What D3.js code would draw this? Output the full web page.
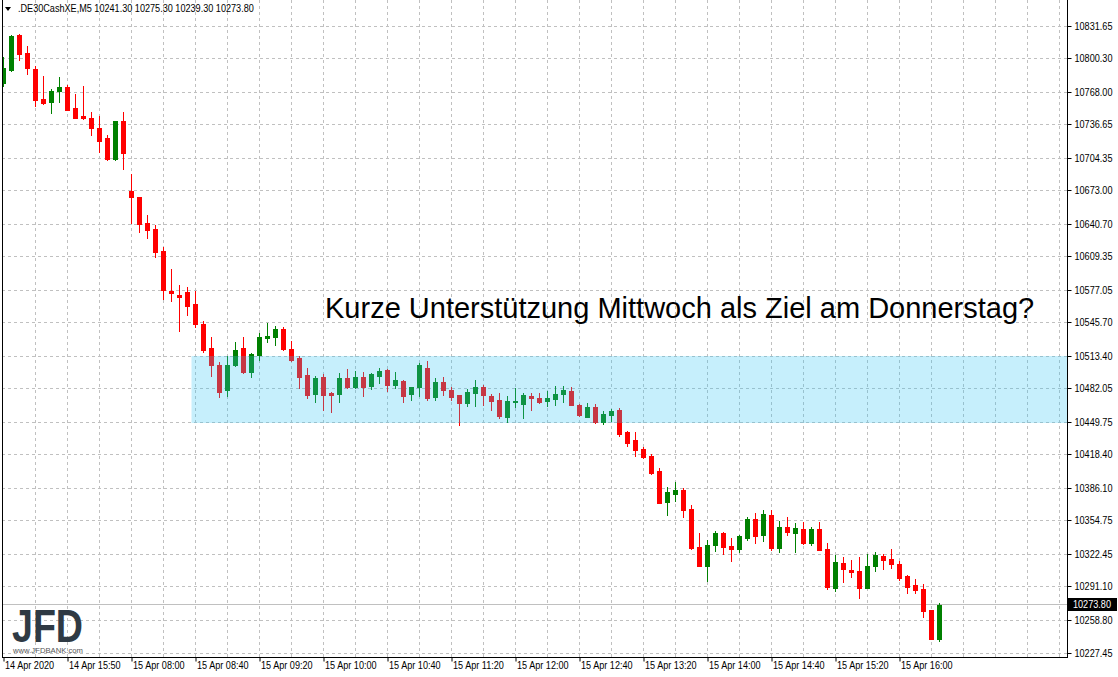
<!DOCTYPE html>
<html>
<head>
<meta charset="utf-8">
<script src="https://cdn.jsdelivr.net/npm/d3@7"></script>
<style>
  html, body { margin: 0; padding: 0; background: #fff; }
  svg { display: block; }
</style>
</head>
<body>
<svg id="chart" width="1118" height="677"></svg>
<script>
// ---------------- data ----------------
const symbolTitle = ".DE30CashXE,M5  10241.30 10275.30 10239.30 10273.80";
const annotation = "Kurze Unterstützung Mittwoch als Ziel am Donnerstag?";

const open = [
10777.3, 10789.5, 10823.3, 10805.9, 10790.5, 10761.6, 10759.0, 10769.6, 10773.1, 10752.9,
10745.2, 10743.2, 10733.9, 10724.3, 10704.0, 10740.4, 10672.9, 10667.1, 10642.0, 10636.2,
10615.0, 10576.5, 10572.6, 10575.5, 10563.9, 10544.9, 10521.5, 10505.1, 10481.0, 10505.4,
10521.5, 10498.4, 10515.0, 10531.4, 10532.4, 10539.8, 10520.5, 10511.9, 10495.5, 10477.4,
10493.5, 10478.4, 10477.4, 10492.6, 10484.2, 10493.5, 10485.1, 10494.8, 10500.3, 10486.1,
10489.7, 10477.4, 10484.2, 10502.2, 10474.5, 10488.7, 10481.0, 10476.5, 10468.8, 10478.4,
10483.9, 10475.5, 10471.4, 10455.3, 10469.7, 10467.8, 10475.5, 10473.3, 10470.7, 10472.6,
10477.4, 10480.0, 10466.8, 10455.3, 10464.9, 10450.4, 10457.2, 10462.0, 10440.5, 10432.8,
10424.1, 10417.7, 10403.2, 10373.3, 10381.0, 10384.9, 10366.6, 10329.9, 10311.6, 10331.9,
10343.4, 10330.9, 10328.0, 10338.6, 10356.9, 10341.5, 10360.8, 10329.0, 10349.2, 10343.4,
10347.3, 10333.8, 10347.3, 10328.0, 10290.4, 10314.2, 10307.5, 10306.5, 10290.4, 10311.6,
10321.0, 10318.1, 10313.2, 10301.7, 10293.0, 10289.1, 10268.9, 10241.3
];
const high = [
10802.3, 10823.6, 10824.2, 10813.0, 10793.4, 10783.7, 10771.2, 10782.8, 10775.1, 10766.7,
10774.4, 10749.0, 10745.2, 10726.9, 10740.4, 10749.0, 10689.3, 10667.1, 10649.7, 10639.8,
10618.6, 10597.7, 10582.2, 10580.3, 10576.5, 10547.5, 10532.1, 10508.0, 10513.8, 10527.3,
10532.1, 10516.7, 10536.0, 10545.6, 10542.7, 10541.7, 10528.2, 10513.8, 10502.2, 10494.5,
10496.4, 10479.4, 10497.4, 10501.3, 10499.3, 10498.4, 10497.4, 10502.2, 10501.3, 10498.4,
10490.6, 10483.9, 10506.7, 10509.0, 10492.6, 10493.5, 10483.9, 10476.5, 10482.0, 10490.6,
10485.8, 10477.4, 10478.4, 10475.5, 10482.9, 10478.4, 10478.4, 10478.4, 10480.3, 10485.1,
10485.1, 10483.9, 10467.8, 10468.8, 10467.8, 10461.0, 10463.0, 10463.9, 10441.5, 10440.5,
10426.3, 10419.6, 10406.1, 10387.5, 10392.6, 10386.8, 10370.4, 10343.4, 10336.7, 10345.3,
10344.4, 10338.6, 10341.5, 10358.8, 10362.7, 10365.6, 10365.6, 10355.0, 10358.8, 10353.1,
10354.0, 10349.2, 10354.0, 10333.8, 10321.9, 10320.0, 10317.1, 10320.0, 10322.9, 10324.8,
10322.9, 10327.7, 10316.1, 10302.6, 10298.8, 10294.0, 10268.9, 10275.3
];
const low = [
10774.4, 10788.6, 10799.2, 10785.7, 10754.8, 10757.0, 10748.1, 10759.0, 10750.9, 10743.5,
10742.3, 10726.9, 10710.5, 10703.0, 10703.0, 10694.4, 10642.0, 10633.6, 10627.8, 10609.5,
10569.0, 10567.1, 10538.2, 10553.6, 10542.0, 10517.6, 10494.8, 10474.5, 10475.5, 10504.4,
10497.7, 10493.8, 10510.2, 10527.6, 10524.4, 10519.6, 10509.3, 10483.2, 10473.6, 10469.7,
10462.0, 10460.1, 10469.7, 10483.2, 10483.2, 10475.5, 10482.0, 10488.0, 10480.3, 10483.2,
10469.7, 10471.6, 10475.5, 10471.6, 10471.6, 10476.5, 10471.6, 10447.5, 10465.9, 10465.9,
10466.8, 10462.0, 10454.3, 10449.9, 10464.9, 10454.3, 10462.0, 10468.8, 10465.9, 10466.8,
10469.7, 10466.8, 10456.2, 10455.3, 10449.5, 10448.5, 10451.4, 10436.9, 10427.3, 10417.7,
10415.7, 10400.3, 10372.3, 10360.8, 10374.3, 10358.8, 10328.0, 10311.6, 10297.1, 10326.1,
10323.2, 10316.4, 10325.1, 10336.7, 10333.8, 10335.7, 10327.0, 10325.1, 10341.5, 10325.1,
10332.8, 10331.9, 10327.0, 10289.4, 10287.5, 10296.2, 10301.0, 10280.8, 10290.4, 10306.8,
10308.7, 10309.7, 10297.8, 10285.6, 10285.6, 10262.4, 10241.2, 10239.3
];
const close = [
10791.2, 10822.3, 10805.2, 10791.7, 10760.9, 10758.0, 10769.3, 10773.1, 10751.2, 10743.5,
10743.2, 10733.9, 10721.4, 10704.0, 10740.4, 10709.8, 10667.4, 10640.8, 10635.6, 10613.8,
10577.7, 10574.8, 10571.0, 10562.3, 10544.9, 10519.9, 10505.4, 10479.4, 10505.1, 10519.6,
10498.4, 10515.7, 10532.1, 10533.1, 10539.8, 10520.5, 10510.2, 10493.8, 10476.5, 10492.6,
10476.5, 10476.5, 10492.6, 10484.2, 10493.5, 10484.2, 10496.4, 10499.3, 10486.1, 10490.6,
10475.5, 10483.9, 10505.1, 10473.6, 10488.7, 10481.3, 10474.5, 10468.8, 10479.1, 10483.9,
10476.5, 10470.7, 10456.2, 10470.4, 10470.4, 10476.5, 10473.6, 10469.7, 10473.3, 10477.4,
10481.0, 10466.8, 10457.2, 10464.9, 10450.4, 10458.2, 10461.0, 10438.9, 10430.2, 10423.4,
10416.7, 10401.3, 10372.3, 10382.7, 10384.6, 10365.6, 10329.0, 10311.6, 10331.9, 10343.4,
10329.9, 10328.0, 10340.5, 10356.9, 10340.5, 10361.7, 10329.0, 10349.2, 10344.4, 10348.2,
10333.8, 10347.3, 10327.0, 10291.4, 10315.2, 10308.7, 10305.8, 10290.4, 10311.3, 10321.9,
10317.4, 10313.5, 10300.0, 10291.4, 10288.5, 10268.2, 10241.2, 10273.8
];

const priceTicks = [10831.65, 10800.30, 10768.00, 10736.65, 10704.35, 10673.00, 10640.70,
  10609.35, 10577.05, 10545.70, 10513.40, 10482.05, 10449.75, 10418.40, 10386.10,
  10354.75, 10322.45, 10291.10, 10258.80, 10227.45];

const timeTickIndex = [0, 8, 16, 24, 32, 40, 48, 56, 64, 72, 80, 88, 96, 104, 112];
const timeTickLabels = ["14 Apr 2020", "14 Apr 15:50", "15 Apr 08:00", "15 Apr 08:40",
  "15 Apr 09:20", "15 Apr 10:00", "15 Apr 10:40", "15 Apr 11:20", "15 Apr 12:00",
  "15 Apr 12:40", "15 Apr 13:20", "15 Apr 14:00", "15 Apr 14:40", "15 Apr 15:20", "15 Apr 16:00"];

const lastPrice = 10273.80;
const zoneTop = 10513.40;
const zoneBottom = 10449.75;
const zoneStartIndex = 23.5;

// ---------------- layout ----------------
const W = 1118, H = 677;
const plotL = 2, plotR = 1067, plotT = 0, plotB = 657;
const axisFont = "'Liberation Sans', Arial, sans-serif";
const axisSize = 10;
const narrow = 0.91; // slight horizontal condensing to mimic the terminal's UI font

function condense(sel) {
  sel.each(function () {
    const w = this.getComputedTextLength();
    d3.select(this).attr("textLength", w * narrow).attr("lengthAdjust", "spacingAndGlyphs");
  });
}

const svg = d3.select("#chart");
svg.append("rect").attr("width", W).attr("height", H).attr("fill", "#fff");

const x = d3.scaleLinear().domain([0, 117]).range([3.5, 939.5]);
const y = d3.scaleLinear().domain([10227.45, 10831.65]).range([653, 26.3]);
const crisp = v => Math.floor(v) + 0.5;

const candles = open.map((o, i) => ({ i, o, h: high[i], l: low[i], c: close[i] }));

// clip
svg.append("defs").append("clipPath").attr("id", "plotclip")
  .append("rect").attr("x", plotL + 1).attr("y", plotT).attr("width", plotR - plotL - 1).attr("height", plotB - plotT);

const plot = svg.append("g").attr("clip-path", "url(#plotclip)");

// grid
const gridColor = "#c0c0c0";
const vIdx = d3.range(4, 200, 4).filter(i => x(i) < plotR - 2);
plot.append("g").selectAll("line").data(vIdx).join("line")
  .attr("x1", d => x(d)).attr("x2", d => x(d))
  .attr("y1", plotT).attr("y2", plotB)
  .attr("stroke", gridColor).attr("stroke-width", 1).attr("stroke-dasharray", "3,3");

plot.append("g").selectAll("line").data(priceTicks).join("line")
  .attr("x1", plotL).attr("x2", plotR)
  .attr("y1", d => crisp(y(d))).attr("y2", d => crisp(y(d)))
  .attr("stroke", gridColor).attr("stroke-width", 1).attr("stroke-dasharray", "3,3");

// last price line
plot.append("line")
  .attr("x1", plotL).attr("x2", plotR)
  .attr("y1", crisp(y(lastPrice))).attr("y2", crisp(y(lastPrice)))
  .attr("stroke", gridColor).attr("stroke-width", 1);

// candles
const up = "#008000", down = "#ff0000";
const cg = plot.append("g");
cg.selectAll("rect.wick").data(candles).join("rect").attr("class", "wick")
  .attr("x", d => x(d.i) - 0.5).attr("width", 1)
  .attr("y", d => Math.round(y(d.h)))
  .attr("height", d => Math.max(1, Math.round(y(d.l)) - Math.round(y(d.h)) + 1))
  .attr("fill", d => d.c >= d.o ? up : down);
cg.selectAll("rect.body").data(candles).join("rect").attr("class", "body")
  .attr("x", d => x(d.i) - 2.5).attr("width", 5)
  .attr("y", d => Math.round(y(Math.max(d.o, d.c))))
  .attr("height", d => Math.max(1, Math.round(y(Math.min(d.o, d.c))) - Math.round(y(Math.max(d.o, d.c))) + 1))
  .attr("fill", d => d.c >= d.o ? up : down);

// support zone
plot.append("rect")
  .attr("x", x(zoneStartIndex)).attr("width", plotR - x(zoneStartIndex))
  .attr("y", Math.round(y(zoneTop)))
  .attr("height", Math.round(y(zoneBottom)) - Math.round(y(zoneTop)) + 1)
  .attr("fill", "rgb(52,196,245)").attr("fill-opacity", 0.28);

// annotation
svg.append("text").attr("x", 325).attr("y", 318)
  .attr("font-family", "'Liberation Sans', Arial, sans-serif").attr("font-size", 29)
  .attr("fill", "#000").text(annotation);

// logo
const logo = svg.append("g");
logo.append("text").attr("x", 12).attr("y", 642)
  .attr("font-family", "'Liberation Sans', Arial, sans-serif").attr("font-weight", "bold")
  .attr("font-size", 46).attr("textLength", 71).attr("lengthAdjust", "spacingAndGlyphs")
  .attr("fill", "#2f3a44").text("JFD");
logo.append("text").attr("x", 13).attr("y", 653)
  .attr("font-family", "'Liberation Sans', Arial, sans-serif")
  .attr("font-size", 7.5).attr("textLength", 70).attr("lengthAdjust", "spacingAndGlyphs")
  .attr("fill", "#555").text("www.JFDBANK.com");

// header
svg.append("path").attr("d", "M5,7 L11,7 L8,11 Z").attr("fill", "#000");
svg.append("text").attr("x", 18).attr("y", 12)
  .attr("font-family", axisFont).attr("font-size", axisSize).attr("fill", "#000")
  .text(symbolTitle).call(condense);

// axes
const yAxis = d3.axisRight(y).tickValues(priceTicks).tickSize(4).tickPadding(3)
  .tickFormat(d3.format(".2f"));
const yg = svg.append("g").attr("transform", `translate(${plotR + 0.5},0)`).call(yAxis);
yg.select(".domain").remove();
yg.selectAll(".tick").attr("transform", d => `translate(0,${crisp(y(d))})`);
yg.selectAll(".tick line").attr("stroke", "#000");
yg.selectAll(".tick text").attr("font-family", axisFont).attr("font-size", axisSize).attr("fill", "#000")
  .call(condense);

const tickMap = new Map(timeTickIndex.map((v, k) => [v, timeTickLabels[k]]));
const xAxis = d3.axisBottom(x).tickValues(timeTickIndex).tickSize(4)
  .tickFormat(d => tickMap.get(d));
const xg = svg.append("g").attr("transform", `translate(0,${plotB + 0.5})`).call(xAxis);
xg.select(".domain").remove();
xg.selectAll(".tick line").attr("stroke", "#000");
xg.selectAll(".tick text").attr("font-family", axisFont).attr("font-size", axisSize).attr("fill", "#000")
  .attr("text-anchor", "start").attr("x", 1).attr("y", 4)
  .call(condense);

// frame lines
svg.append("line").attr("x1", plotL + 0.5).attr("x2", plotL + 0.5).attr("y1", plotT).attr("y2", plotB + 1).attr("stroke", "#000");
svg.append("line").attr("x1", plotR + 0.5).attr("x2", plotR + 0.5).attr("y1", plotT).attr("y2", plotB + 1).attr("stroke", "#000");
svg.append("line").attr("x1", plotL).attr("x2", plotR + 1).attr("y1", plotB + 0.5).attr("y2", plotB + 0.5).attr("stroke", "#000");

// last price label
const lpY = crisp(y(lastPrice));
svg.append("rect").attr("x", plotR + 1).attr("y", lpY - 6.5).attr("width", 49).attr("height", 13).attr("fill", "#000");
svg.append("text").attr("x", plotR + 6).attr("y", lpY).attr("dy", "0.35em")
  .attr("font-family", axisFont).attr("font-size", axisSize).attr("fill", "#fff")
  .text(d3.format(".2f")(lastPrice)).call(condense);
</script>
</body>
</html>
